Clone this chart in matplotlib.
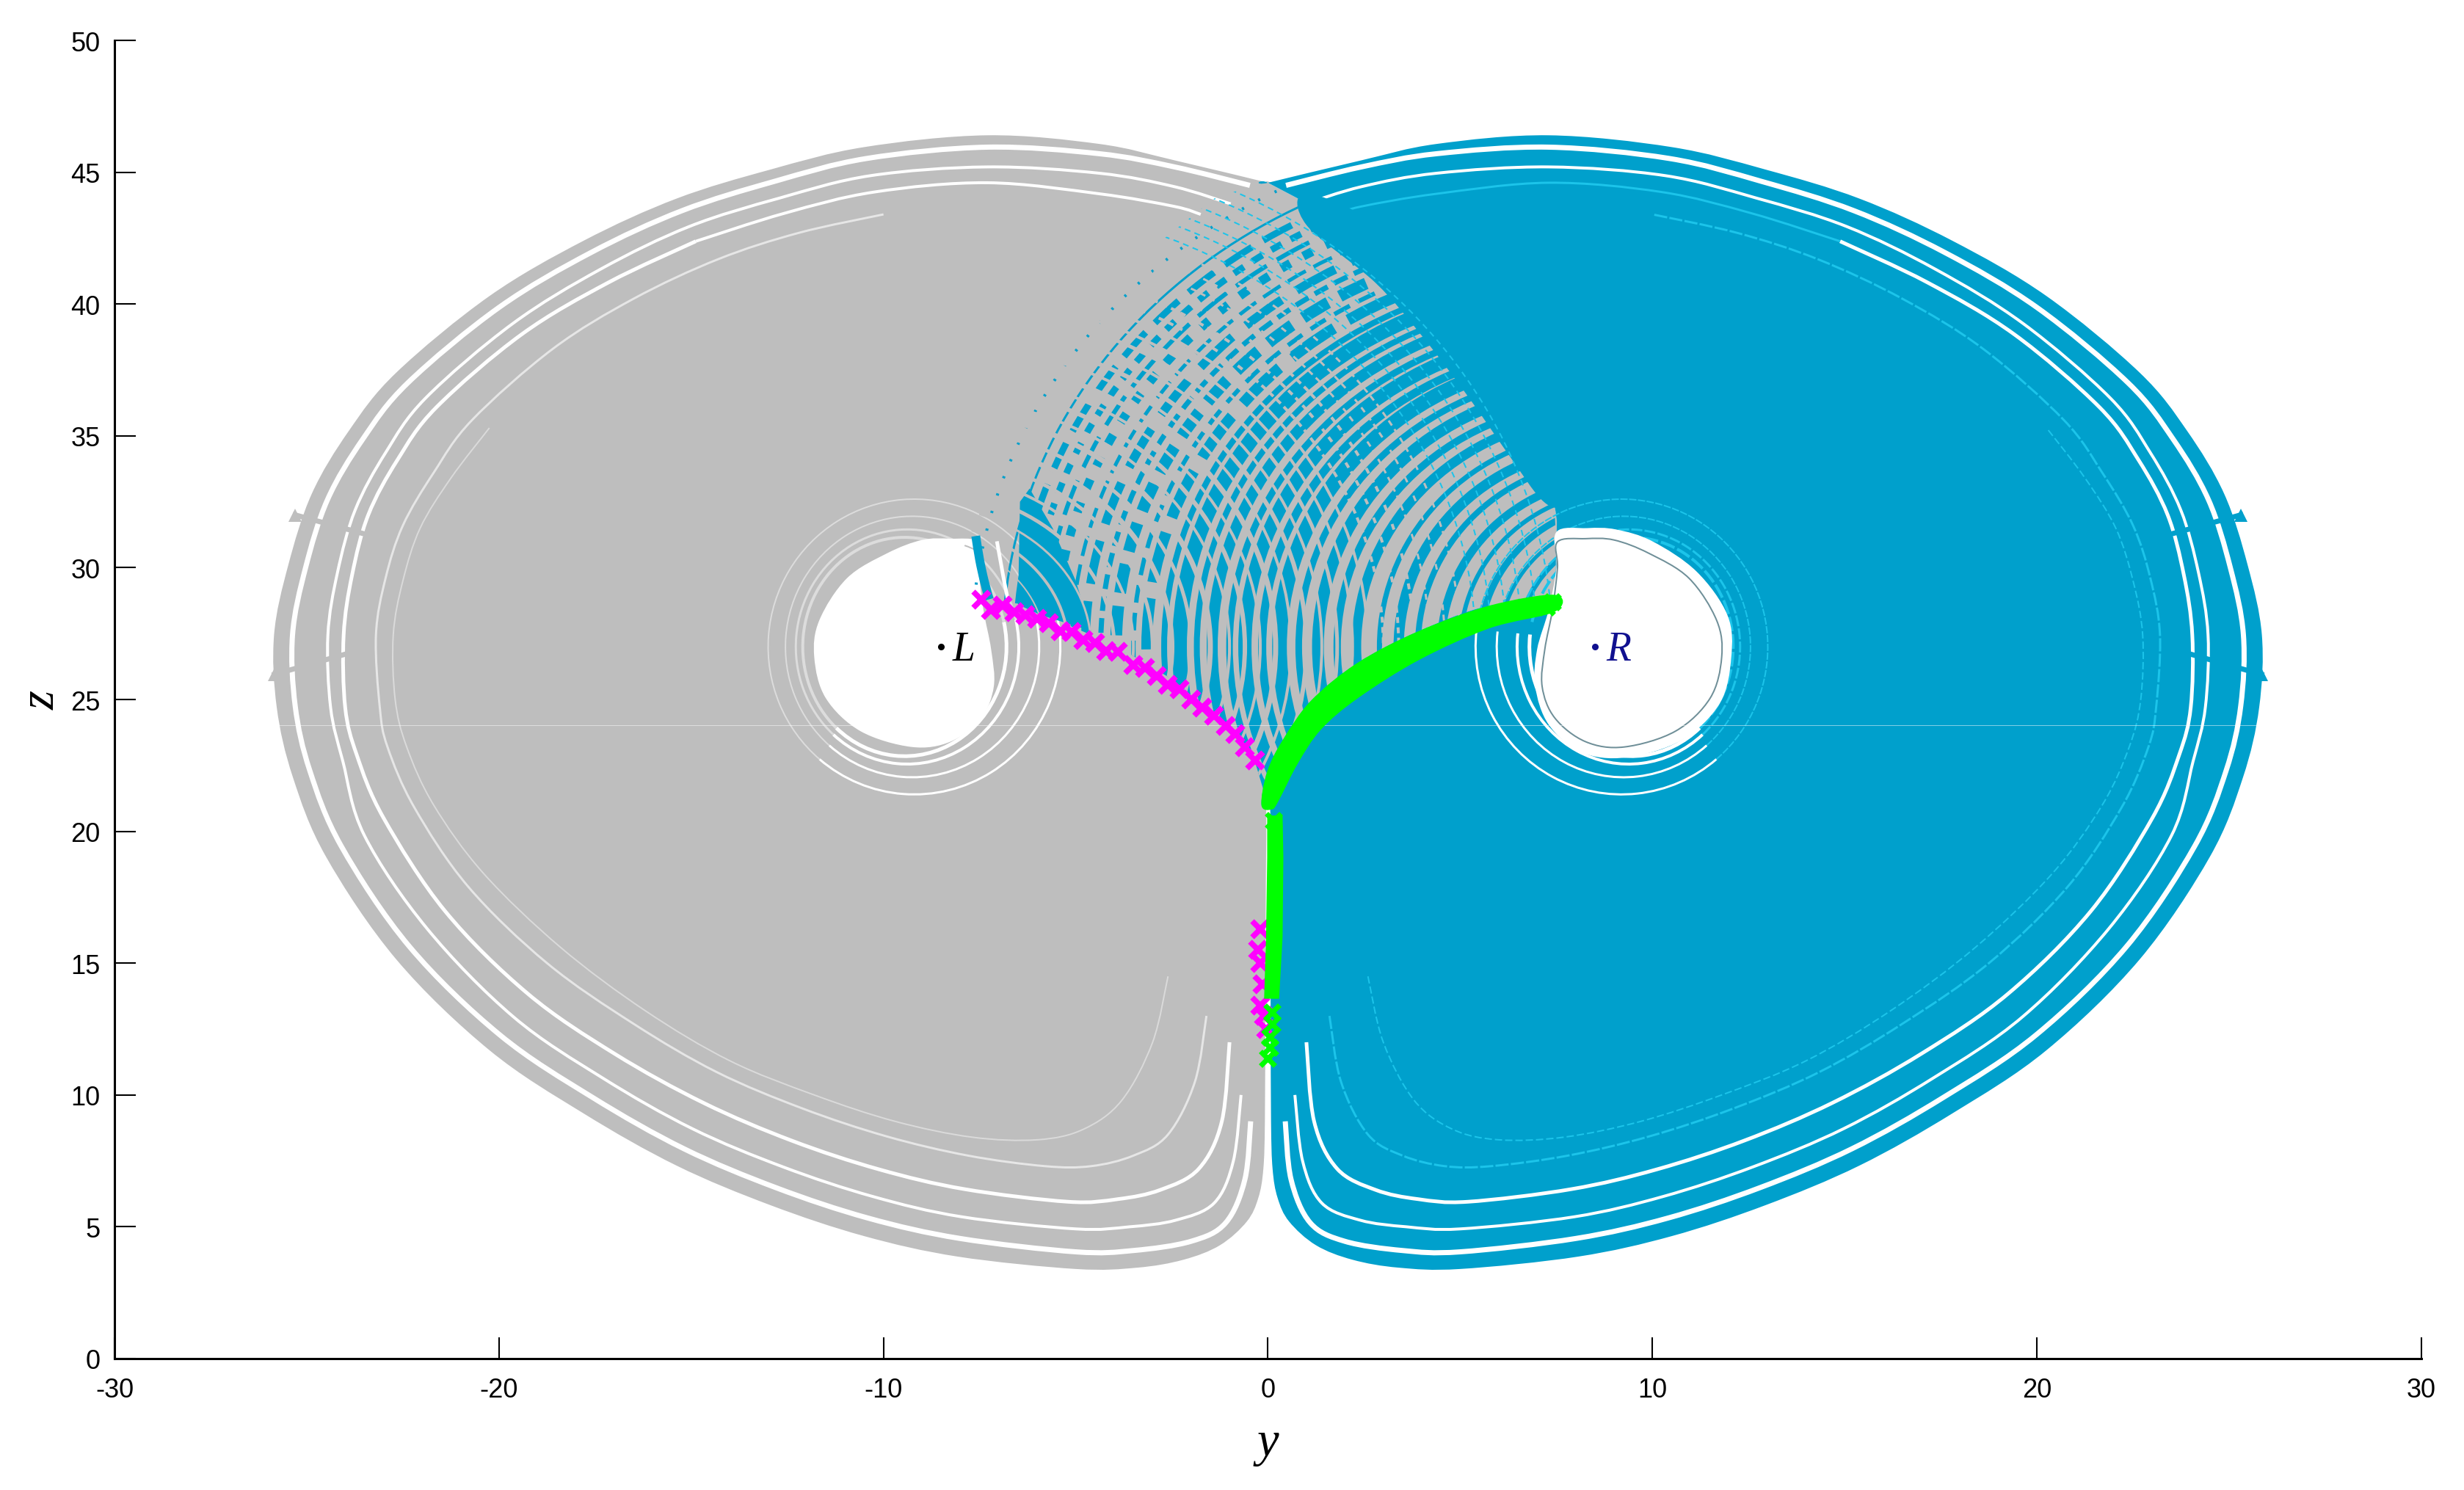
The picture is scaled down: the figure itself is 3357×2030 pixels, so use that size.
import numpy as np
import matplotlib
matplotlib.use("Agg")
import matplotlib.pyplot as plt
from matplotlib.path import Path
from matplotlib.patches import PathPatch, Polygon, Ellipse, Arc

# outlines, in (y, z) axis units
right_outer_y = [0.05, 0.06, 0.07, 0.08, 0.12, 0.25, 0.55, 1.25, 2.2, 3.4, 5, 8.07, 10.51, 12.94, 15.38, 17.8, 20.25, 22.67, 24.5,
                 25.36, 25.78, 25.85, 25.48, 24.87, 23.9, 22.67, 20.25, 17.8, 15.38, 12.94, 10.51, 7.3, 4.38, 2.43, 0, 0]
right_outer_z = [21, 17, 13, 9, 7.2, 6.1, 5.2, 4.3, 3.75, 3.45, 3.4, 3.87, 4.65, 5.82, 7.32, 9.3, 11.7, 15.14, 19.04,
                 22.05, 24.7, 27.45, 30.1, 32.8, 35.2, 37.4, 40.3, 42.4, 44.0, 45.1, 45.95, 46.4, 46.07, 45.45, 44.6, 44.6]
left_outer_y = [-0.05, -0.06, -0.07, -0.08, -0.12, -0.25, -0.55, -1.25, -2.2, -3.4, -5, -8.07, -10.51, -12.94, -15.38, -17.8, -20.25, -22.67, -24.5,
                -25.36, -25.78, -25.85, -25.48, -24.87, -23.9, -22.67, -20.25, -17.8, -15.38, -12.94, -10.51, -7.3, -4.38, -2.43, 0, 0]
left_outer_z = [21, 17, 13, 9, 7.2, 6.1, 5.2, 4.3, 3.75, 3.45, 3.4, 3.87, 4.65, 5.82, 7.32, 9.3, 11.7, 15.14, 19.04,
                22.05, 24.7, 27.45, 30.1, 32.8, 35.2, 37.4, 40.3, 42.4, 44.0, 45.1, 45.95, 46.4, 46.07, 45.45, 44.6, 44.6]

# edge of the solid blue part, top of the lobe down to the right hole
mix_y = [1.4, 2.93, 5.13, 6.77, 7.44, 7.5, 7.46, 7.46]
mix_z = [43.5, 42.1, 39.66, 36.6, 32.45, 31, 28.65, 28.65]
# mostly blue strip next to it, inner edge then a margin inside the solid part
strip_y = [1.0, 2.8, 4.0, 5.2, 6.3, 7.1, 7.6, 8, 7.5, 6, 3, 1]
strip_z = [43.0, 40.8, 38.8, 36.5, 34.2, 32.6, 32.3, 33, 37, 40.5, 43, 44.2]
# solid blue chunk low in the streak zone, next to the left hole
chunk_y = [-6.45, -6.2, -5.6, -5.0, -4.6, -5.9, -6.5]
chunk_z = [32.5, 33.0, 31.5, 29.5, 27.6, 28.2, 28.6]

# green band edges
green_up_y = [7.46, 5.76, 3.93, 2.34, 1.13, 0.4, -0.02, -0.17]
green_up_z = [28.97, 28.56, 27.6, 26.4, 24.97, 23.5, 22.27, 20.99]
green_dn_y = [0.1, 0.27, 0.78, 1.38, 2.34, 3.93, 5.76, 7.46]
green_dn_z = [20.83, 21.14, 22.58, 23.86, 25.05, 26.5, 27.7, 28.33]
green_low_y = [-0.02, 0.38, 0.4, 0.38, 0.29, -0.1, -0.05, -0.02]
green_low_z = [20.6, 20.6, 19, 16, 13.65, 13.65, 16, 19]
green_x_y = [7.4, 7.25, 0.1, 0.1, 0.05, 0.05, 0.0, 0.15]
green_x_z = [28.7, 28.5, 13.15, 12.7, 12.2, 11.8, 11.4, 20.4]
magenta_y = [-7.45, -7.2, -6.9, -6.6, -6.3, -6.0, -5.7, -5.4, -5.1, -4.8, -4.5, -4.2, -3.9, -3.5, -3.2, -2.9, -2.6,
             -2.3, -2.0, -1.7, -1.4, -1.1, -0.85, -0.6, -0.33, -0.2, -0.25, -0.2, -0.15, -0.2, -0.1, -0.05]
magenta_z = [28.8, 28.4, 28.55, 28.3, 28.2, 28.05, 27.9, 27.6, 27.55, 27.25, 27.15, 26.85, 26.8, 26.3, 26.2, 25.9, 25.55,
             25.4, 25.0, 24.7, 24.4, 24.0, 23.7, 23.2, 22.7, 16.3, 15.5, 15.0, 14.2, 13.4, 13.0, 12.5]

# gaps in the outer bands, read on the right lobe, same on the left one
gap1_y = [0.45, 0.6, 1.1, 2.0, 3.5, 5, 8.02, 10.4, 12.79, 15.19, 17.57, 19.98, 22.33, 24.1, 24.92, 25.3, 25.37, 25.03, 24.46, 23.54, 22.37, 20.0, 17.61, 15.24, 12.84, 10.44, 7.3, 4.38, 2.43, 0.47]
gap1_z = [9, 6.8, 5.15, 4.45, 4.1, 4.05, 4.56, 5.33, 6.48, 7.96, 9.91, 12.28, 15.63, 19.43, 22.3, 24.75, 27.45, 30.0, 32.58, 34.88, 37.01, 39.87, 41.95, 43.54, 44.65, 45.52, 45.95, 45.7, 45.2, 44.5]
gap2_y = [0.7, 0.9, 1.4, 2.4, 3.6, 5, 7.97, 10.28, 12.61, 14.97, 17.3, 19.63, 21.87, 23.5, 24.06, 24.38, 24.45, 24.2, 23.74, 22.95, 21.91, 19.65, 17.36, 15.05, 12.7, 10.33, 7.3, 4.38, 2.43, 0.97]
gap2_z = [10, 7.5, 5.9, 5.25, 5.0, 4.92, 5.38, 6.15, 7.27, 8.72, 10.64, 12.97, 16.31, 19.84, 22.65, 24.7, 27.45, 29.82, 32.19, 34.36, 36.43, 39.25, 41.32, 42.94, 44.02, 44.87, 45.2, 44.96, 44.45, 43.8]
gap3_y = [1, 1.2, 1.8, 2.8, 3.9, 5.2, 7.9, 10.12, 12.39, 14.68, 17.0, 19.25, 21.4, 23.0, 23.7, 24.0, 24.04, 23.82, 23.4, 22.64, 21.63, 19.41, 17.15, 14.88]
gap3_z = [12, 9, 7.2, 6.4, 6.05, 5.95, 6.43, 7.18, 8.27, 9.7, 11.57, 13.84, 16.97, 20.5, 22.9, 24.7, 27.45, 29.73, 32.0, 34.09, 36.08, 38.85, 40.82, 42.38]
gap3_top_y = [14.88, 12.58, 10.23, 7.3, 4.38, 2.43, 1.75]
gap3_top_z = [42.38, 43.44, 44.25, 44.6, 44.18, 43.7, 43.4]
gap4_y = [1.6, 1.9, 2.6, 3.5, 4.6, 5.8, 7.8, 9.92, 12.11, 14.34, 16.5, 18.75, 20.8, 22.2, 22.9, 23.1, 23.2, 22.95, 22.5, 21.7, 20.7, 18.6, 16.5, 14.3, 12.2, 10]
gap4_z = [13, 10.5, 8.5, 7.7, 7.3, 7.3, 7.7, 8.43, 9.49, 10.87, 12.7, 15.0, 17.9, 20.9, 23.2, 24.7, 27.45, 29.6, 31.6, 33.6, 35.6, 38.3, 40.2, 41.7, 42.7, 43.4]
gap5_y = [2.6, 3, 3.8, 4.8, 6, 7.7, 9.7, 11.8, 14, 16.2, 18.4, 20.4, 21.7, 22.4, 22.7, 22.75, 22.5, 22.05, 21.25, 20.25]
gap5_z = [14.5, 12, 9.8, 8.7, 8.3, 8.4, 9.0, 10, 11.3, 13.2, 15.6, 18.4, 21, 23.2, 25, 27.45, 29.5, 31.5, 33.4, 35.3]

# holes around L and R
hole_line_y = [7.53, 8.26, 9.0, 9.9, 10.95, 11.67, 11.8, 11.5, 10.6, 9.27, 8.26, 7.46, 7.13, 7.2, 7.4, 7.53]
hole_line_z = [30.98, 31.1, 31.05, 30.55, 29.6, 28, 26.6, 25.05, 23.8, 23.2, 23.4, 24.3, 25.5, 26.9, 28.4, 30]
hole_band_y = [7.5, 8.3, 9.05, 10.0, 11.15, 11.95, 12.05, 11.75, 10.75, 9.3, 8.15, 7.3, 6.95, 7.0, 7.3, 7.5]
hole_band_z = [31.35, 31.5, 31.45, 31.0, 29.85, 28.2, 26.6, 24.85, 23.45, 22.8, 23.0, 24.05, 25.5, 26.9, 28.4, 30]

# rings round the holes: centre y, half width, half height
ring_c = [9.2, 9.25, 9.38, 9.45]
ring_ry = [3.8, 3.3, 2.9, 2.65]
ring_rz = [5.6, 4.95, 4.45, 4.15]

# streak arcs of the right lobe: left edge, centre y, top z
a_left = [-7.7, -6.9, -6.55, -6.2, -5.85, -5.55, -5.1, -4.75, -4.35, -3.95, -3.5, -3.15, -2.7, -2.3, -1.85, -1.45,
          -1.0, -0.6, -0.15, 0.3, 0.8, 1.3, 1.8, 2.3, 2.9, 3.4, 3.9, 4.5, 5.0, 5.5, 6.0, 6.5]
a_center = [7.3, 7.4, 7.4, 7.5, 7.5, 7.6, 7.6, 7.7, 7.75, 7.8, 7.9, 7.95, 8, 8.05, 8.1, 8.2,
            8.25, 8.3, 8.4, 8.45, 8.5, 8.6, 8.65, 8.75, 8.85, 8.9, 9, 9.1, 9.15, 9.25, 9.3, 9.4]
a_top = [46.6, 45.8, 45.3, 44.9, 44.5, 44.2, 43.7, 43.3, 42.9, 42.4, 42, 41.6, 41.1, 40.7, 40.2, 39.8,
         39.3, 38.9, 38.4, 38, 37.4, 36.9, 36.3, 35.8, 35.2, 34.6, 34.1, 33.4, 32.9, 32.4, 31.8, 31.3]

# streak arcs of the left lobe: right edge, centre y, top z
b_right = [7.4, 7.0, 6.6, 6.2, 5.8, 5.4, 5.0, 4.6, 4.2, 3.8, 3.4, 3.0, 2.6, 2.2, 1.8, 1.4,
           1.0, 0.6, 0.2, -0.2, -0.6, -1.0, -1.5, -2.0, -2.5, -3.0, -3.5, -4.0, -4.6, -5.2, -5.8]
b_center = [-7.3, -7.4, -7.4, -7.5, -7.5, -7.6, -7.6, -7.7, -7.75, -7.8, -7.9, -7.95, -8, -8.05, -8.1, -8.2,
            -8.25, -8.3, -8.4, -8.45, -8.5, -8.6, -8.65, -8.75, -8.85, -8.9, -9, -9.1, -9.15, -9.25, -9.3]
b_top = [46.2, 45.7, 45.2, 44.7, 44.3, 43.8, 43.4, 43, 42.5, 42, 41.6, 41.1, 40.7, 40.2, 39.8, 39.3,
         38.8, 38.4, 37.9, 37.4, 36.9, 36.4, 35.9, 35.3, 34.8, 34.2, 33.6, 33, 32.4, 31.8, 31.2]

# foot of the outer blue band next to the left hole, and the white slit beside it
foot_y = [-7.6, -7.5, -7.38, -7.25]
foot_z = [31.2, 30.3, 29.5, 28.8]
slit_y = [-7.05, -6.95, -6.85, -6.75]
slit_z = [31.0, 30.2, 29.4, 28.7]

# small barbs on the outer bands
barb_up_y = [23.55, 25.3]
barb_up_z = [31.3, 32.0]
barb_lo_y = [23.9, 25.84]
barb_lo_z = [26.76, 25.95]

y_ticks = [-30, -20, -10, 0, 10, 20, 30]
z_ticks = [0, 5, 10, 15, 20, 25, 30, 35, 40, 45, 50]

GRAY = "#bebebe"
BLUE = "#00a0cc"
CYAN = "#1cc4ea"
SANS = "Liberation Sans"
SERIF = "Liberation Serif"


def curve(xs, zs, closed=False):
    # smooth curve through the read points
    pts = np.column_stack([xs, zs]).astype(float)
    n = len(pts)
    verts = [pts[0]]
    codes = [Path.MOVETO]
    for i in range(n if closed else n - 1):
        p0 = pts[(i - 1) % n] if (closed or i > 0) else pts[i]
        p1 = pts[i]
        p2 = pts[(i + 1) % n]
        p3 = pts[(i + 2) % n] if (closed or i + 2 < n) else p2
        verts += [p1 + (p2 - p0) / 6, p2 - (p3 - p1) / 6, p2]
        codes += [Path.CURVE4] * 3
    if closed:
        verts.append(pts[0])
        codes.append(Path.CLOSEPOLY)
    return Path(verts, codes)


def px(v):
    # line widths below are thought of in image pixels
    return v * 0.72


fig = plt.figure(figsize=(33.57, 20.31), dpi=100)
ax = fig.add_axes([156 / 3357, 1 - 1852 / 2031, 3143 / 3357, 1796 / 2031])
ax.set_xlim(-30, 30)
ax.set_ylim(0, 50)

# gray lobe, running under the streak zone as far as the green curve
fill_y = left_outer_y + mix_y + green_up_y[1:]
fill_z = left_outer_z + mix_z + green_up_z[1:]
ax.add_patch(PathPatch(curve(fill_y, fill_z, True), fc=GRAY, ec="none", zorder=1))

for gy, gz, w, c in [(gap1_y, gap1_z, 7, "white"), (gap2_y, gap2_z, 4, "white"), (gap3_y, gap3_z, 5, "white"),
                     (gap3_top_y, gap3_top_z, 4, "white"), (gap4_y, gap4_z, 3, "#e6e6e6"), (gap5_y, gap5_z, 2, "#dadada")]:
    ax.add_patch(PathPatch(curve(-np.array(gy), gz), fc="none", ec=c, lw=px(w), zorder=2))

ax.plot(-np.array(barb_up_y), barb_up_z, color=GRAY, lw=px(7), zorder=2)
ax.plot(-np.array(barb_lo_y), barb_lo_z, color=GRAY, lw=px(7), zorder=2)
ax.plot([-barb_up_y[1], -barb_lo_y[1]], [barb_up_z[1], barb_lo_z[1]], "^", color=GRAY, ms=13, mew=0, zorder=2)

# left hole and its rings
ring_l_w = [2, 2, 3, 4]
for c, ry, rz, w in zip(ring_c, ring_ry, ring_rz, ring_l_w):
    ax.add_patch(Arc((-c, 27), 2 * ry, 2 * rz, theta1=-120, theta2=20, ec="white", lw=px(w + 1), zorder=3))
    ax.add_patch(Arc((-c, 27), 2 * ry, 2 * rz, theta1=20, theta2=240, ec="#dcdcdc", lw=px(w), zorder=3))
ax.add_patch(PathPatch(curve(-np.array(hole_line_y), hole_line_z, True), fc="white", ec="none", zorder=3))

# solid blue lobe
blue_y = right_outer_y + mix_y + green_up_y[1:]
blue_z = right_outer_z + mix_z + green_up_z[1:]
ax.add_patch(PathPatch(curve(blue_y, blue_z, True), fc=BLUE, ec="none", zorder=4))

for gy, gz, w, c, ls in [(gap1_y, gap1_z, 7, "white", "-"), (gap2_y, gap2_z, 4, "white", "-"), (gap3_y, gap3_z, 5, "white", "-"),
                         (gap3_top_y, gap3_top_z, 3, CYAN, "-"), (gap4_y, gap4_z, 3, CYAN, (0, (6, 1))),
                         (gap5_y, gap5_z, 2, CYAN, (0, (5, 2)))]:
    ax.add_patch(PathPatch(curve(gy, gz), fc="none", ec=c, lw=px(w), ls=ls, zorder=5))

ax.plot(barb_up_y, barb_up_z, color=BLUE, lw=px(7), zorder=5)
ax.plot(barb_lo_y, barb_lo_z, color=BLUE, lw=px(7), zorder=5)
ax.plot([barb_up_y[1], barb_lo_y[1]], [barb_up_z[1], barb_lo_z[1]], "^", color=BLUE, ms=13, mew=0, zorder=5)

# streak zone between the two curves, everything clipped to it
wedge_y = [-7.55, -5.8, -3.98, -2.53, -1.3, -0.33, 0, 0.28, 0.9, 2.1, 3.93, 5.76, 7.46, 7.5, 7.44, 6.77, 5.13, 2.93,
           1.4, 0, -1.4, -5.0, -7.1, -8.0]
wedge_z = [28.8, 28.2, 27.06, 25.8, 24.3, 22.6, 21, 22.6, 24.2, 25.6, 27.06, 28.1, 28.65, 31, 32.45, 36.6, 39.66,
           42.1, 43.5, 44.7, 44.0, 39.8, 33.3, 30.5]
wedge = Polygon(np.column_stack([wedge_y, wedge_z]), closed=True, fc="none", ec="none",
                transform=ax.transData, zorder=0)
ax.add_patch(wedge)

a_widths = [4, 3, 9, 9, 6, 12, 5, 12, 7, 16, 6, 15, 8, 20, 8, 15, 9, 18, 11, 20, 9, 16, 10, 13, 7, 14, 8, 11, 6, 9, 5, 7]
a_on = [3, 0, 44, 16, 50, 14, 28, 60, 20, 40, 24, 70]
a_off = [22, 0, 18, 14, 16, 20, 12, 24, 10, 18, 14, 22]
for i, (left, c, top) in enumerate(zip(a_left, a_center, a_top)):
    w = a_widths[i]
    if i < 12 and i != 1:
        style = (i * 3, (a_on[i] / w, a_off[i] / w))
    else:
        style = "-"
    e = Ellipse((c, 27), 2 * (c - left), 2 * (top - 27), fc="none", ec=BLUE, lw=px(w), ls=style, zorder=6)
    ax.add_patch(e)
    e.set_clip_path(wedge)

# mostly blue strip beside the solid part, and the chunk by the left hole
ax.add_patch(PathPatch(curve(strip_y, strip_z, True), fc=BLUE, ec="none", zorder=6.5))
ax.add_patch(Polygon(np.column_stack([chunk_y, chunk_z]), closed=True, fc=BLUE, ec="none", zorder=6.5))

b_widths = [2, 2, 2, 2, 2, 2, 3, 3, 3, 4, 4, 4, 4, 4, 5, 4, 6, 4, 7, 4, 6, 4, 7, 5, 7, 5, 4, 5, 3, 4, 2]
for i, (right, c, top) in enumerate(zip(b_right, b_center, b_top)):
    col = CYAN if i < 6 else GRAY
    style = (0, (8 / b_widths[i], 6 / b_widths[i])) if i < 12 else "-"
    e = Ellipse((c, 27), 2 * (right - c), 2 * (top - 27), fc="none", ec=col, lw=px(b_widths[i]), ls=style, zorder=7)
    ax.add_patch(e)
    e.set_clip_path(wedge)

ax.add_patch(PathPatch(curve(foot_y, foot_z), fc="none", ec=BLUE, lw=px(12), capstyle="butt", zorder=7.5))
ax.add_patch(PathPatch(curve(slit_y, slit_z), fc="none", ec="white", lw=px(5), capstyle="butt", zorder=7.5))

# right hole and its rings
ring_w = [2, 2, 3, 4]
for c, ry, rz, w in zip(ring_c, ring_ry, ring_rz, ring_w):
    ax.add_patch(Arc((c, 27), 2 * ry, 2 * rz, theta1=-60, theta2=160, ec=CYAN, lw=px(w), ls=(0, (5, 1)), zorder=8))
    ax.add_patch(Arc((c, 27), 2 * ry, 2 * rz, theta1=170, theta2=300, ec="white", lw=px(w + 1), zorder=8))
ax.add_patch(PathPatch(curve(hole_band_y, hole_band_z, True), fc="white", ec="none", zorder=9))
ax.add_patch(PathPatch(curve(hole_line_y, hole_line_z, True), fc="none", ec="#6f8f98", lw=px(2), zorder=9))

# faint horizontal line through the whole attractor
ax.plot([-25.7, 25.7], [24.03, 24.03], color="white", lw=px(1), alpha=0.5, zorder=10)

# magenta and green sets on top
ax.plot(magenta_y, magenta_z, "x", color="#ff00ff", ms=16, mew=5.5, zorder=11)
ax.add_patch(PathPatch(curve(green_up_y + green_dn_y, green_up_z + green_dn_z, True), fc="#00ff00", ec="none", zorder=12))
ax.add_patch(Polygon(np.column_stack([green_low_y, green_low_z]), closed=True, fc="#00ff00", ec="none", zorder=12))
ax.plot(green_x_y, green_x_z, "x", color="#00ff00", ms=15, mew=5, zorder=12)

# equilibrium points
ax.plot([-8.5], [27], "o", color="black", ms=6.5, mew=0, zorder=13)
ax.text(-8.2, 26.9, "L", family=SERIF, style="italic", fontsize=40, color="black", va="center", ha="left", zorder=13)
ax.plot([8.5], [27], "o", color="#10108f", ms=6.5, mew=0, zorder=13)
ax.text(8.8, 26.9, "R", family=SERIF, style="italic", fontsize=40, color="#10108f", va="center", ha="left", zorder=13)

# axes, matlab style: ticks pointing in
ax.spines["top"].set_visible(False)
ax.spines["right"].set_visible(False)
ax.spines["left"].set_linewidth(2.2)
ax.spines["bottom"].set_linewidth(2.2)
ax.set_xticks(y_ticks)
ax.set_xticklabels([str(t) for t in y_ticks], family=SANS, fontsize=26)
ax.set_yticks(z_ticks)
ax.set_yticklabels([str(t) for t in z_ticks], family=SANS, fontsize=26)
ax.tick_params(axis="x", direction="in", length=21, width=1.5, pad=18)
ax.tick_params(axis="y", direction="in", length=21, width=1.5, pad=14)
ax.set_xlabel("y", family=SERIF, style="italic", fontsize=48, labelpad=18)
ax.set_ylabel("z", family=SERIF, style="italic", fontsize=48, labelpad=6)

fig.savefig("out.png", dpi=100)
